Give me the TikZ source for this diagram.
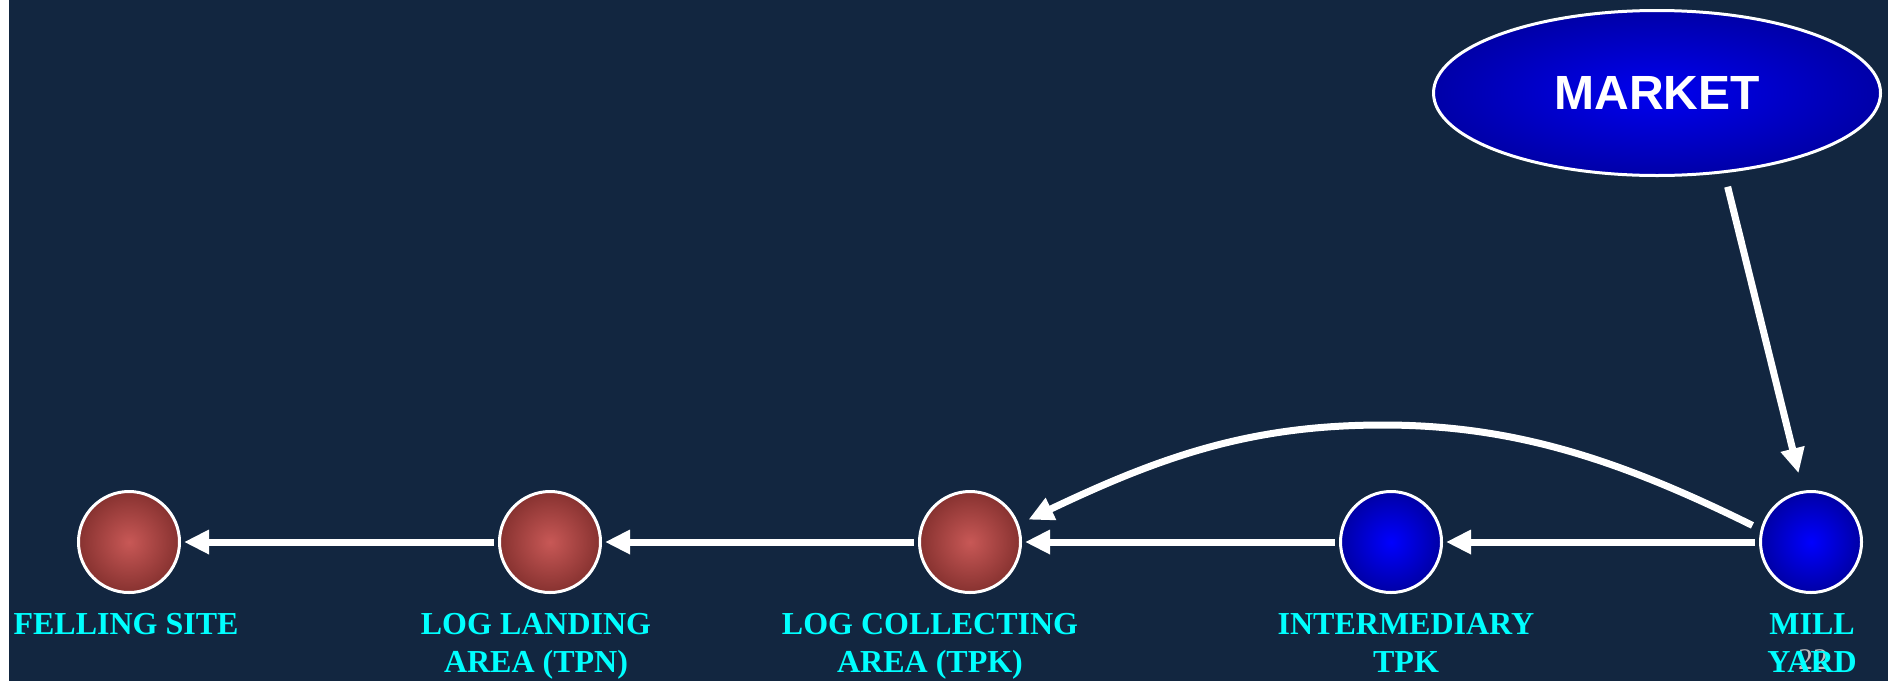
\documentclass[tikz,border=0pt]{standalone}
\usepackage{fontspec}
\setmainfont{Liberation Serif}
\newfontfamily\mksans{Liberation Sans}
\usetikzlibrary{arrows.meta,shapes.geometric}
\definecolor{bgc}{RGB}{18,38,64}
\definecolor{lblc}{RGB}{0,255,255}
\definecolor{redin}{RGB}{200,88,86}
\definecolor{redout}{RGB}{135,50,48}
\definecolor{bluein}{RGB}{0,0,255}
\definecolor{blueout}{RGB}{0,0,165}
\definecolor{mkin}{RGB}{0,0,240}
\definecolor{mkout}{RGB}{0,0,168}
\definecolor{pgc}{RGB}{190,190,190}
\begin{document}
\begin{tikzpicture}[x=0.5pt,y=-0.5pt,
  site/.style={circle,draw=white,line width=1.5pt,minimum size=50.5pt,inner sep=0pt},
  redsite/.style={site,inner color=redin,outer color=redout},
  bluesite/.style={site,inner color=bluein,outer color=blueout},
  lbl/.style={text=lblc,font=\fontsize{16}{19}\selectfont\bfseries,align=center,anchor=north,inner sep=0pt},
  arr/.style={draw=white,line width=3.5pt,-{Triangle[length=12.5pt,width=11.5pt]}},
]
\useasboundingbox (0,0) rectangle (1888,681);
\fill[bgc] (0,0) rectangle (1888,681);
\fill[white] (0,0) rectangle (9,681);

% sites
\node[redsite] (fell) at (129,542) {};
\node[redsite] (tpn) at (550,542) {};
\node[redsite] (tpk) at (970,542) {};
\node[bluesite] (inter) at (1391,542) {};
\node[bluesite] (mill) at (1811,542) {};

% market
\node[ellipse,draw=white,line width=1.5pt,minimum width=223.5pt,minimum height=82.5pt,inner sep=0pt,
      inner color=mkin,outer color=mkout,text=white,font=\mksans\bfseries\fontsize{24}{28}\selectfont]
      (market) at (1657,93) {MARKET};

% page number
\node[text=pgc,font=\fontsize{15}{18}\selectfont,inner sep=0pt] (pg) at (1813,660) {22};

% labels
\node[lbl] (lfell) at (126,613) {FELLING SITE};
\node[lbl] (ltpn) at (536,613) {LOG LANDING\\AREA (TPN)};
\node[lbl] (ltpk) at (930,613) {LOG COLLECTING\\AREA (TPK)};
\node[lbl] (linter) at (1406,613) {INTERMEDIARY\\TPK};
\node[lbl] (lmill) at (1812,613) {MILL\\YARD};

% connectors
\coordinate (crest) at (1383,425);
\draw[arr,shorten <=2pt,shorten >=1.5pt] (mill.west) -- (inter.east);
\draw[arr,shorten <=2pt,shorten >=1.5pt] (inter.west) -- (tpk.east);
\draw[arr,shorten <=2pt,shorten >=1.5pt] (tpk.west) -- (tpn.east);
\draw[arr,shorten <=2pt,shorten >=1.5pt] (tpn.west) -- (fell.east);
\draw[arr,shorten <=4.5pt,shorten >=5.3pt] (mill.166) .. controls (1618,459) and (1513,425) .. (crest)
      .. controls (1253,425) and (1164,455) .. (tpk.20);
\draw[arr,shorten <=7pt,shorten >=9pt] (market.-50) -- (mill.99);
\end{tikzpicture}
\end{document}
